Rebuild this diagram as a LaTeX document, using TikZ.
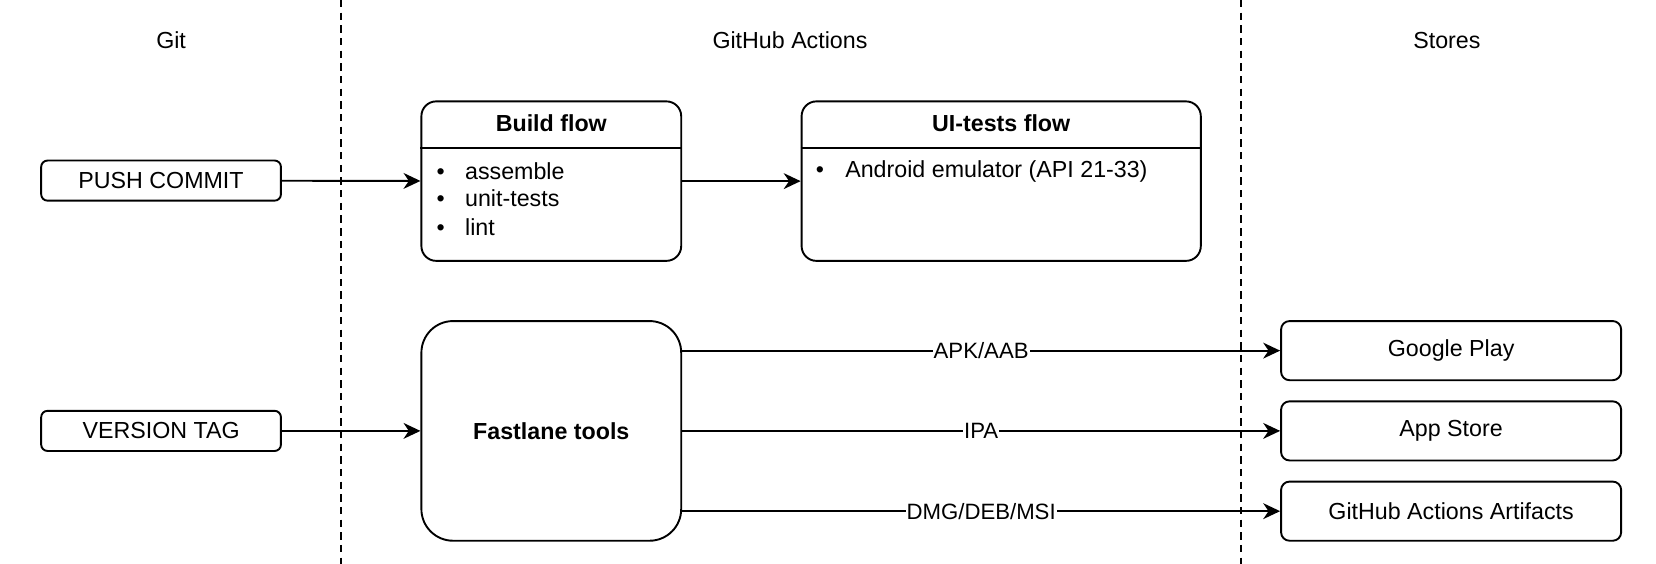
\documentclass[tikz,border=0pt]{standalone}
\usepackage{fontspec}
\setmainfont{Liberation Sans}
\usetikzlibrary{arrows.meta,positioning}
\tikzstyle{lane label}=[font=\fontsize{11}{13}\selectfont]
\tikzstyle{lane}=[draw,line width=0.9pt,dash pattern=on 3.5pt off 2.5pt]
\tikzstyle{event}=[draw,line width=0.9pt,rounded corners=3pt,minimum width=113.5pt,minimum height=19pt,inner sep=0pt,font=\fontsize{11}{13}\selectfont]
\tikzstyle{flow}=[draw,line width=0.9pt,rounded corners=7pt,minimum height=75.5pt,inner sep=0pt]
\tikzstyle{store}=[event,rounded corners=4pt,minimum width=161pt,minimum height=28pt]
\tikzstyle{item}=[anchor=west,inner sep=0pt,font=\fontsize{11}{13}\selectfont]
\tikzstyle{edge}=[draw,line width=0.9pt,-{Stealth[length=8pt,width=7.5pt,inset=2.5pt]}]
\tikzstyle{edge label}=[midway,fill=white,inner sep=0.5pt,font=\fontsize{10.5}{12}\selectfont]

\begin{document}
\begin{tikzpicture}[x=0.5pt,y=-0.5pt]
    \useasboundingbox (0,0) rectangle (1568,534);
    % Lanes and their titles
    \foreach \pos/\name/\text in {{(162,38)/git/Git}, {(748,38)/actions/GitHub Actions}, {(1370,38)/stores/Stores}}
        \node[lane label] (\name) at \pos {\text};
    \coordinate (laneA top) at (323,0);
    \coordinate (laneA bottom) at (323,534);
    \coordinate (laneB top) at (1175,0);
    \coordinate (laneB bottom) at (1175,534);
    \path[lane] (laneA top) -- (laneA bottom);
    \path[lane] (laneB top) -- (laneB bottom);

    % Git events
    \node[event] (push) at (152.5,171) {PUSH COMMIT};
    \node[event] (tag) at (152.5,408) {VERSION TAG};

    % Build flow and UI-tests flow
    \node[flow,minimum width=123pt] (build) at (522,171.5) {};
    \node[flow,minimum width=189pt] (ui) at (948,171.5) {};
    \node[lane label,font=\fontsize{11}{13}\selectfont\bfseries] (build title) at (522,117) {Build flow};
    \node[lane label,font=\fontsize{11}{13}\selectfont\bfseries] (ui title) at (948,117) {UI-tests flow};
    \draw[line width=0.9pt] (build.west |- 0,140) -- (build.east |- 0,140);
    \draw[line width=0.9pt] (ui.west |- 0,140) -- (ui.east |- 0,140);
    \foreach \y/\name/\text in {162/assemble/assemble, 188/unittests/unit-tests, 215/lint/lint}
        \node[item] (\name) at (413,\y) {\makebox[13.5pt][l]{•}\text};
    \node[item] (emulator) at (772,162) {\makebox[14pt][l]{•}Android emulator (API 21-33)};

    % Fastlane and the stores
    \node[flow,rounded corners=15pt,minimum width=123pt,minimum height=104pt,font=\fontsize{11}{13}\selectfont\bfseries] (fastlane) at (522,408) {Fastlane tools};
    \foreach \y/\name/\text in {332/play/Google Play, 408/appstore/App Store, 484/artifacts/GitHub Actions Artifacts}
        \node[store] (\name) at (1374,\y) {\text};

    % Connect them
    \foreach \source/\dest in {push/build, build/ui, tag/fastlane}
        \path[edge] (\source) -- (\dest);
    \foreach \dest/\text in {play/APK\slash AAB, appstore/IPA, artifacts/DMG\slash DEB\slash MSI}
        \path[edge] (fastlane.east |- \dest) -- (\dest) node[edge label] {\text};
\end{tikzpicture}
\end{document}
